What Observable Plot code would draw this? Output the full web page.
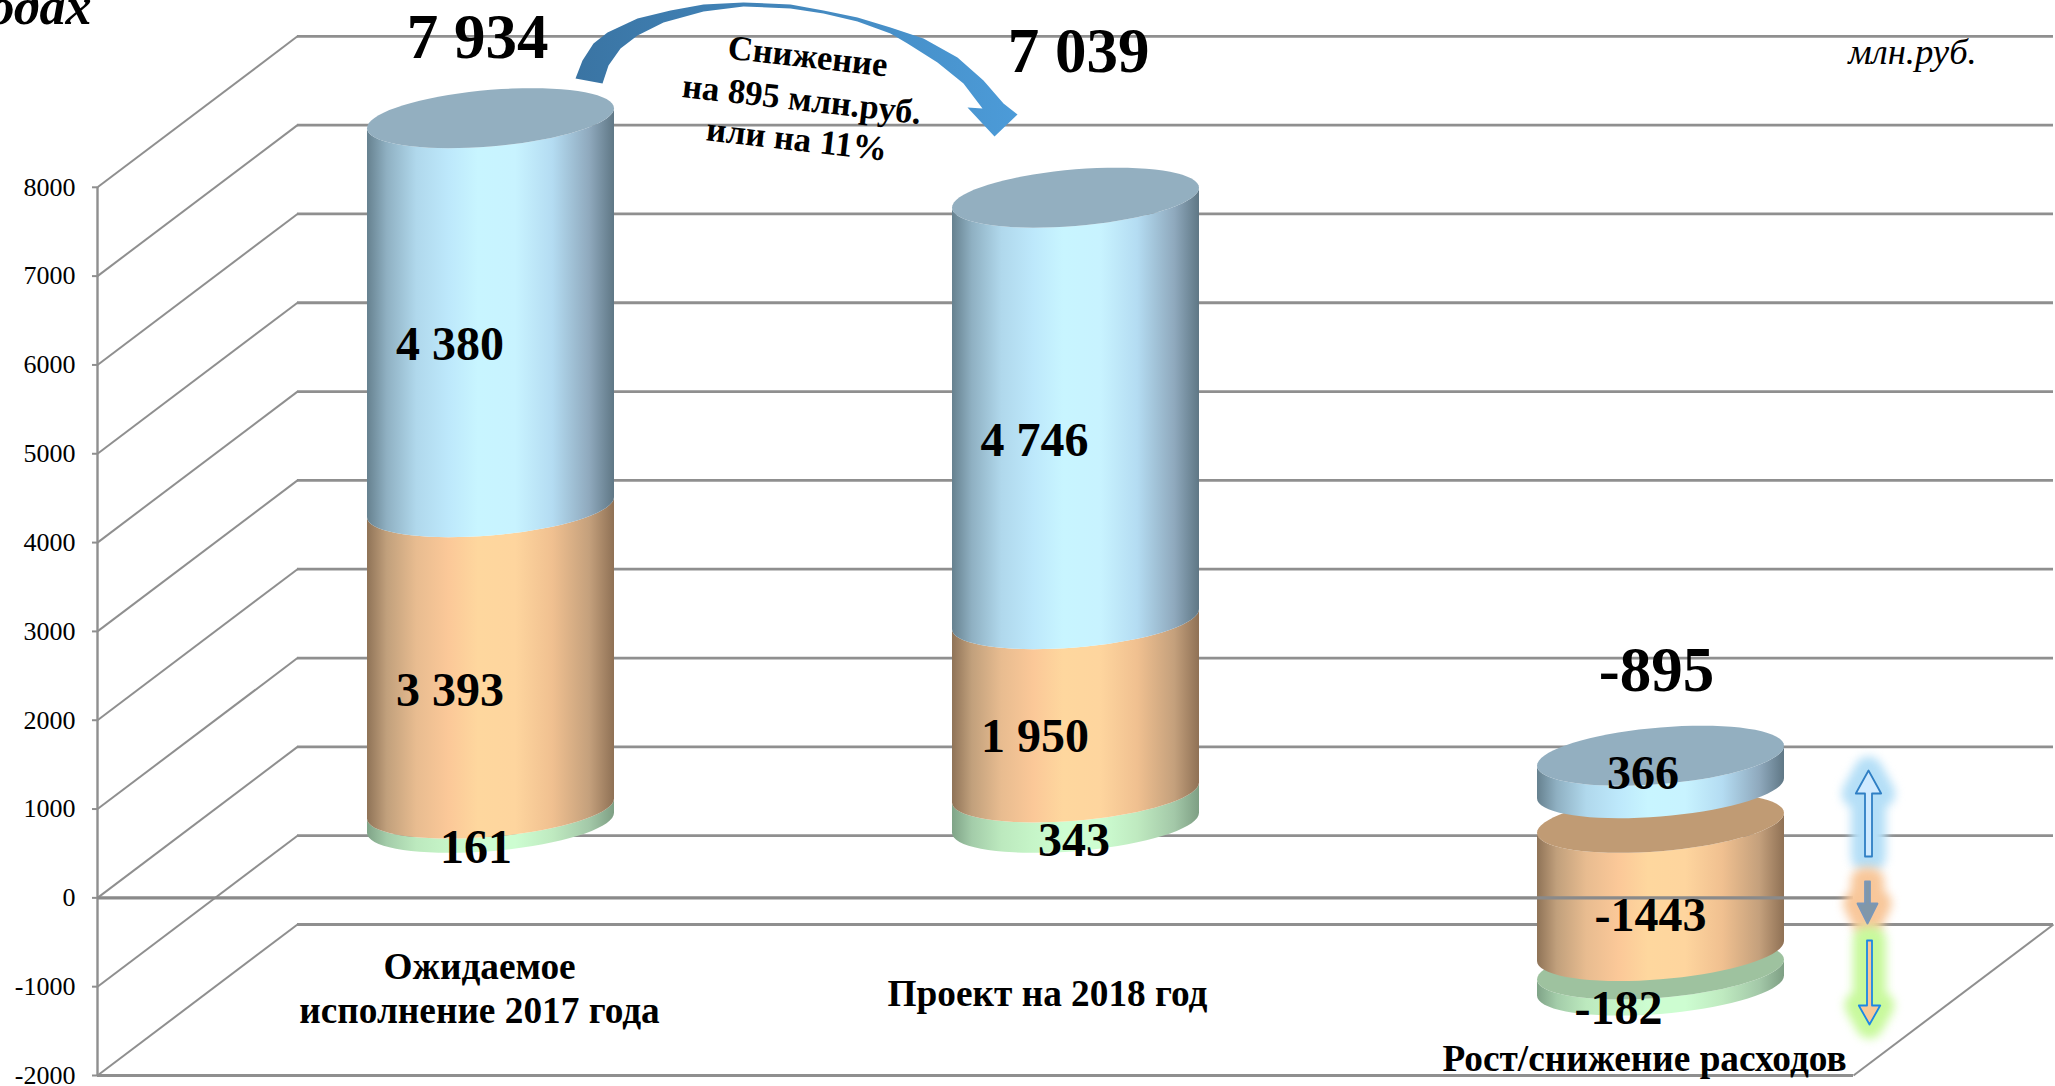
<!DOCTYPE html>
<html lang="ru">
<head>
<meta charset="utf-8">
<title>Расходы</title>
<script src="https://cdn.jsdelivr.net/npm/d3@7"></script>
<script src="https://cdn.jsdelivr.net/npm/@observablehq/plot@0.6"></script>
<style>
  html, body { margin: 0; padding: 0; background: #fff; overflow: hidden; }
  svg { display: block; }
</style>
</head>
<body>
<div id="chart"></div>
<script>
// ---- data ----
const categories = ["Ожидаемое\nисполнение 2017 года", "Проект на 2018 год", "Рост/снижение расходов"];
const seriesGreen = [161, 343, -182];
const seriesOrange = [3393, 1950, -1443];
const seriesBlue = [4380, 4746, 366];
const totals = [7934, 7039, -895];
const yTicks = [8000, 7000, 6000, 5000, 4000, 3000, 2000, 1000, 0, -1000, -2000];
const deltaBases = { green: -1650, orange: 0, blue: 390 }; // where the three slices of the last column sit

// ---- projection of the fake 3D box, in scale units ----
const pxPerCat = 585, pxPerVal = 0.08882;
const centre0 = 490;
const ux = p => (p - centre0) / pxPerCat;
const uy = p => (1075 - p) / pxPerVal - 2000;
const xLeft = ux(97), xRight = ux(1853);
const backDX = 200 / pxPerCat, backDV = 151 / pxPerVal, midDV = 75 / pxPerVal;
const rx = 123.5 / pxPerCat, tiltV = 10 / pxPerVal, ryV = 28.3 / pxPerVal;

const steps = d3.range(0, 73).map(k => k * Math.PI / 36);
const rim = (i, v, t) => ({
  x: i + rx * Math.cos(t),
  y: v + midDV + tiltV * Math.cos(t) + ryV * Math.sin(t)
});
const capPoly = (i, v) => steps.map(t => rim(i, v, t));
const bodyPoly = (i, lo, hi) => {
  const front = steps.filter(t => t >= Math.PI - 1e-6 && t <= 2 * Math.PI + 1e-6);
  return [...front.map(t => rim(i, hi, t)), ...front.slice().reverse().map(t => rim(i, lo, t))];
};

const slices = [];
categories.forEach((_, i) => {
  if (i < 2) {
    const a = seriesGreen[i], b = a + seriesOrange[i], c = b + seriesBlue[i];
    slices.push({ i, name: "green", lo: 0, hi: a, cap: false, v: a });
    slices.push({ i, name: "orange", lo: a, hi: b, cap: false, v: seriesOrange[i] });
    slices.push({ i, name: "blue", lo: b, hi: c, cap: true, v: seriesBlue[i] });
  } else {
    slices.push({ i, name: "green", lo: deltaBases.green + seriesGreen[i], hi: deltaBases.green, cap: true, v: seriesGreen[i] });
    slices.push({ i, name: "orange", lo: deltaBases.orange + seriesOrange[i], hi: deltaBases.orange, cap: true, v: seriesOrange[i] });
    slices.push({ i, name: "blue", lo: deltaBases.blue, hi: deltaBases.blue + seriesBlue[i], cap: true, v: seriesBlue[i] });
  }
});

const capColor = { green: "#9ec29f", orange: "#c09b74", blue: "#93afc0" };
const gradients = {
  blue: ["#66818f", "#8fb0c2", "#b0d8ec", "#bde8fb", "#c8f5ff", "#c8f3ff", "#b4dcf2", "#8fa9bd", "#5f7785"],
  orange: ["#8f7357", "#c1a07c", "#e8bc90", "#fbc898", "#fed79e", "#fed59e", "#f0c090", "#c4a07c", "#8f7155"],
  green: ["#7fa387", "#a3cca9", "#bce9be", "#c6f5c8", "#cdfdd1", "#cdfdd1", "#bfeac0", "#a3c8a8", "#7e9f84"]
};
const gradStops = [0, 8, 20, 33, 45, 60, 75, 90, 100];

// nudges of the in-column labels, in pixels from the slice's middle
const labelNudge = {
  "0green": [-14.5, 47], "0orange": [-40.5, 47.8], "0blue": [-40.5, 47],
  "1green": [-1.5, 48], "1orange": [-40.5, 46.4], "1blue": [-41, 47.4],
  "2green": [-42, 46.4], "2orange": [-10, 43.8], "2blue": [-17.5, 17.5]
};
const fmt = v => v < 0 ? String(v) : d3.format(",")(v).replace(",", "\u00a0");

const sliceLabels = slices.map(s => {
  const [dx, dy] = labelNudge[s.i + s.name];
  return { x: s.i + dx / pxPerCat, y: (s.lo + s.hi) / 2 + midDV - dy / pxPerVal, text: fmt(s.v) };
});
const totalLabels = [
  { x: ux(477), y: uy(57), text: fmt(totals[0]) },
  { x: ux(1078), y: uy(71.5), text: fmt(totals[1]) },
  { x: ux(1656), y: uy(690), text: fmt(totals[2]) }
];
const categoryLabels = [
  { x: ux(479), y: uy(978), text: "Ожидаемое" },
  { x: ux(479), y: uy(1022), text: "исполнение 2017 года" },
  { x: ux(1047), y: uy(1005), text: categories[1] },
  { x: ux(1644), y: uy(1070), text: categories[2] }
];
const noteLines = [
  { x: ux(806), y: uy(67), text: "Снижение" },
  { x: ux(800), y: uy(110), text: "на 895 млн.руб." },
  { x: ux(795), y: uy(150), text: "или на 11%" }
];

// the curved arrow between the two columns
const swoop = [[575,78],[582,60],[593,43],[607,32],[637,18],[670,10],[703,4],[743,2],[790,4],[823,10],[857,17],[890,27],[923,38],[957,57],[983,80],[1003,103],[1017,114],[994,136],[967,107],[982,108],[963,83],[937,62],[907,43],[890,33],[857,21],[823,13],[790,8],[743,6],[703,11],[663,22],[637,35],[620,48],[608,65],[602,83],[575,78]]
  .map(([x, y]) => ({ x: ux(x), y: uy(y) }));

// small block arrows beside the last column
const blockArrow = (cx, tail, tip, headBase, headHalf, shaftHalf) => [
  [cx - shaftHalf, tail], [cx - shaftHalf, headBase], [cx - headHalf, headBase], [cx, tip],
  [cx + headHalf, headBase], [cx + shaftHalf, headBase], [cx + shaftHalf, tail], [cx - shaftHalf, tail]
].map(([x, y]) => ({ x: ux(x), y: uy(y) }));
const sideArrows = [
  { pts: blockArrow(1868, 856, 770, 793, 12.7, 3.5), glow: "#b5dff7", fill: "#cfeaff", stroke: "#2f7fc4" },
  { pts: blockArrow(1867, 881, 923, 903, 10, 2.5), glow: "#f8c79a", fill: "#8097a9", stroke: "#7a97b8" },
  { pts: blockArrow(1869, 940, 1024, 1005, 10.7, 2.5), glow: "#c8f99c", fill: "#f9c896", stroke: "#1b87e5" }
];

const defsMark = () => {
  const defs = d3.create("svg:defs");
  for (const [name, colors] of Object.entries(gradients)) {
    const g = defs.append("linearGradient").attr("id", "grad-" + name);
    colors.forEach((c, k) => g.append("stop").attr("offset", gradStops[k] + "%").attr("stop-color", c));
  }
  const a = defs.append("linearGradient").attr("id", "grad-swoop");
  a.append("stop").attr("offset", "0%").attr("stop-color", "#3a74a3");
  a.append("stop").attr("offset", "100%").attr("stop-color", "#4c9bd8");
  return defs.node();
};

const gridColor = "#8f8f8f";
const serif = "Liberation Serif";
const textMark = (data, fontSize, extra = {}) => Plot.text(data, {
  x: "x", y: "y", text: "text", fontSize, fontWeight: "bold", fontFamily: serif,
  fill: "#000", lineAnchor: "bottom", textAnchor: "middle", ...extra
});

const chart = Plot.plot({
  width: 2055,
  height: 1086,
  marginLeft: 97,
  marginRight: 202,
  marginTop: 186.8,
  marginBottom: 11,
  style: { background: "#fff", fontFamily: serif, overflow: "hidden" },
  x: { domain: [xLeft, xRight], axis: null },
  y: { domain: [-2000, 8000], axis: null },
  marks: [
    defsMark,
    // walls
    Plot.ruleY(yTicks, { y: d => d + backDV, x1: xLeft + backDX, x2: xRight + backDX, stroke: gridColor, strokeWidth: 2.8 }),
    Plot.link(yTicks, { x1: xLeft, y1: d => d, x2: xLeft + backDX, y2: d => d + backDV, stroke: gridColor, strokeWidth: 2 }),
    Plot.link([-2000], { x1: xRight, y1: d => d, x2: xRight + backDX, y2: d => d + backDV, stroke: gridColor, strokeWidth: 2 }),
    Plot.ruleX([xLeft], { y1: -2000, y2: 8000, stroke: gridColor, strokeWidth: 2.4 }),
    Plot.ruleY([-2000], { x1: xLeft, x2: xRight, stroke: gridColor, strokeWidth: 3.2 }),
    Plot.axisY({
      ticks: yTicks, tickFormat: String, tickSize: 5, tickPadding: 17, anchor: "left",
      fontSize: 26, fontFamily: serif, stroke: gridColor, strokeWidth: 2, textStroke: "none", color: "#000", label: null
    }),
    // columns
    ...slices.flatMap(s => [
      Plot.line(bodyPoly(s.i, s.lo, s.hi), { x: "x", y: "y", fill: `url(#grad-${s.name})`, stroke: "none" }),
      ...(s.cap ? [Plot.line(capPoly(s.i, s.hi), { x: "x", y: "y", fill: capColor[s.name], stroke: "none" })] : [])
    ]),
    // zero line runs across the last column
    Plot.ruleY([0], { x1: xLeft, x2: xRight, stroke: "#8a8a8a", strokeWidth: 3.4 }),
    // side arrows with glow
    ...sideArrows.map(a => Plot.line(a.pts, { x: "x", y: "y", fill: a.glow, stroke: a.glow, strokeWidth: 28, imageFilter: "blur(5px)" })),
    ...sideArrows.map(a => Plot.line(a.pts, { x: "x", y: "y", fill: a.fill, stroke: a.stroke, strokeWidth: 1.8 })),
    // swoop arrow
    Plot.line(swoop, { x: "x", y: "y", fill: "url(#grad-swoop)", stroke: "none" }),
    // texts
    textMark(sliceLabels, 48),
    textMark(totalLabels, 63),
    textMark(categoryLabels, 37.3),
    ...noteLines.map(n => textMark([n], 34.7, { rotate: 6.5 })),
    textMark([{ x: ux(1912), y: uy(63), text: "млн.руб." }], 36.7, { fontWeight: "normal", fontStyle: "italic" }),
    textMark([{ x: ux(91), y: uy(23), text: "годах" }], 52, { fontStyle: "italic", textAnchor: "end" })
  ]
});
document.getElementById("chart").appendChild(chart);
</script>
</body>
</html>
